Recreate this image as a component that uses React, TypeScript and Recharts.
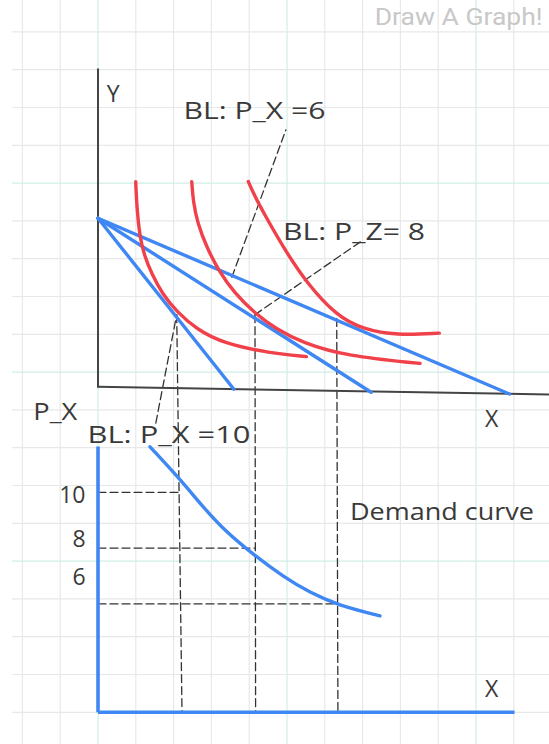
import { ComposedChart, Line, XAxis, YAxis, ReferenceLine, ReferenceDot } from "recharts";

// Everything is measured in grid cells: x = quantity of X, y = quantity of Y.
// The lower panel also uses a price axis (P_X) that shares the same x.
const gridCols = [-2, -1, 0, 1, 2, 3, 4, 5, 6, 7, 8, 9, 10, 11];
const gridRows = [0, 1, 2, 3, 4, 5, 6, 7, 8, 9, 10, 11, 12, 13, 14, 15, 16, 17, 18];
const tealCols = [0, 5, 10];
const tealRows = [4, 9, 14];

// upper panel axes (drawn by hand, the X axis sags a little)
const upperYAxis = [{ x: 0, y: 17.01 }, { x: 0, y: 8.61 }];
const upperXAxis = [{ x: 0, y: 8.61 }, { x: 11.93, y: 8.41 }];

// budget lines all pivot on the same Y intercept
const budgetP10 = [{ x: 0, y: 13.07 }, { x: 3.595, y: 8.545 }];
const budgetP8 = [{ x: 0, y: 13.07 }, { x: 7.226, y: 8.466 }];
const budgetP6 = [{ x: 0, y: 13.07 }, { x: 10.886, y: 8.42 }];

// indifference curves
const ic1 = [
  { x: 0.997, y: 14.04 }, { x: 1.02, y: 13.47 }, { x: 1.1, y: 12.6 }, { x: 1.22, y: 12.1 },
  { x: 1.421, y: 11.6 }, { x: 1.7, y: 11.07 }, { x: 2.082, y: 10.6 }, { x: 2.611, y: 10.13 },
  { x: 3.315, y: 9.76 }, { x: 4.55, y: 9.5 }, { x: 5.513, y: 9.41 },
];
const ic2 = [
  { x: 2.479, y: 14.04 }, { x: 2.52, y: 13.5 }, { x: 2.63, y: 12.95 }, { x: 2.876, y: 12.3 },
  { x: 3.183, y: 11.7 }, { x: 3.6, y: 11.1 }, { x: 4.153, y: 10.55 }, { x: 4.7, y: 10.15 },
  { x: 5.4, y: 9.78 }, { x: 6.579, y: 9.42 }, { x: 8.519, y: 9.23 },
];
const ic3 = [
  { x: 3.976, y: 14.04 }, { x: 4.153, y: 13.64 }, { x: 4.4, y: 13.18 }, { x: 4.902, y: 12.3 },
  { x: 5.5, y: 11.38 }, { x: 6.315, y: 10.48 }, { x: 7.019, y: 10.13 }, { x: 7.902, y: 9.97 },
  { x: 9.029, y: 10.03 },
];

// optimal bundles and where they drop onto the lower panel
const optimum = [{ x: 2.082, y: 10.52 }, { x: 4.153, y: 10.52 }, { x: 6.315, y: 10.42 }];
const dropFoot = [{ x: 2.222, y: 0 }, { x: 4.169, y: 0 }, { x: 6.347, y: 0 }];

// leader lines from the budget line captions
const leaderP6 = [{ x: 3.54, y: 11.51 }, { x: 4.971, y: 15.41 }];
const leaderPz8 = [{ x: 4.153, y: 10.52 }, { x: 7.019, y: 12.5 }];
const leaderP10 = [{ x: 1.529, y: 7.65 }, { x: 2.082, y: 10.52 }];

// lower panel
const lowerYAxis = [{ x: 0, y: 7.03 }, { x: 0, y: 0 }];
const lowerXAxis = [{ x: 0, y: 0 }, { x: 11.02, y: 0 }];
const prices = [10, 8, 6];
const priceDashEnd = [2.12, 4.153, 6.341];
const demand = [
  { x: 1.376, p: 11.63 }, { x: 2.151, p: 10.5 }, { x: 2.75, p: 9.52 }, { x: 3.35, p: 8.62 },
  { x: 4.153, p: 7.72 }, { x: 4.902, p: 6.98 }, { x: 5.608, p: 6.4 }, { x: 6.341, p: 5.96 },
  { x: 7.46, p: 5.57 },
];

const captions = [
  { text: "Y", x: 0.233, y: 16.15 },
  { text: "BL: P_X =6", x: 2.26, y: 15.69, w: 142 },
  { text: "BL: P_Z= 8", x: 4.894, y: 12.49, w: 142 },
  { text: "X", x: 10.238, y: 7.556 },
  { text: "P_X", x: -1.712, y: 7.733, w: 44 },
  { text: "BL: P_X =10", x: -0.278, y: 7.116, w: 163 },
  { text: "Demand curve", x: 6.667, y: 5.087, w: 184 },
  { text: "X", x: 10.238, y: 0.413 },
];
const priceLabelDy = [11, -1, -19];

const BLUE = "#3f87f2";
const RED = "#f0414a";
const INK = "#3a3a3a";
const FONT = "'Open Sans', sans-serif";

export default function App() {
  const dashed = { stroke: "#333", strokeWidth: 1.3, strokeDasharray: "8 4" };
  const seg = (data: any[], key: string, props: any, yAxisId = "q") => (
    <Line
      data={data}
      dataKey={key}
      yAxisId={yAxisId}
      type="linear"
      dot={false}
      activeDot={false}
      isAnimationActive={false}
      strokeLinecap="round"
      {...props}
    />
  );

  return (
    <div style={{ position: "absolute", left: 0, top: 0, width: 549, height: 744, background: "#fff" }}>
      <ComposedChart width={549} height={744} margin={{ top: 0, right: 0, bottom: 0, left: 0 }}>
        <XAxis dataKey="x" type="number" domain={[-2.593, 11.931]} allowDataOverflow hide />
        <YAxis yAxisId="q" type="number" domain={[-0.839, 18.844]} allowDataOverflow hide />
        <YAxis yAxisId="price" type="number" domain={[0.979, 27.645]} allowDataOverflow hide />

        {gridCols.map((c) => (
          <ReferenceLine key={`c${c}`} yAxisId="q" x={c} stroke={tealCols.includes(c) ? "#cfeee7" : "#e8e8e8"} strokeWidth={1.2} />
        ))}
        {gridRows.map((r) => (
          <ReferenceLine
            key={`r${r}`}
            yAxisId="q"
            segment={[{ x: -2.275, y: r }, { x: 11.931, y: r }]}
            stroke={tealRows.includes(r) ? "#cfeee7" : "#e8e8e8"}
            strokeWidth={1.2}
          />
        ))}

        {/* drop lines from each optimum to the demand panel */}
        {optimum.map((o, i) => seg([o, dropFoot[i]], "y", { key: `drop${i}`, ...dashed }))}
        {seg(leaderP6, "y", dashed)}
        {seg(leaderPz8, "y", dashed)}
        {seg(leaderP10, "y", dashed)}
        {prices.map((p, i) =>
          seg([{ x: 0, p }, { x: priceDashEnd[i], p }], "p", { key: `pd${i}`, ...dashed }, "price")
        )}

        {seg(upperYAxis, "y", { stroke: "#444", strokeWidth: 2 })}
        {seg(upperXAxis, "y", { stroke: "#444", strokeWidth: 2 })}

        {seg(budgetP10, "y", { stroke: BLUE, strokeWidth: 3.4 })}
        {seg(budgetP8, "y", { stroke: BLUE, strokeWidth: 3.4 })}
        {seg(budgetP6, "y", { stroke: BLUE, strokeWidth: 3.4 })}

        {seg(ic1, "y", { stroke: RED, strokeWidth: 3.4, type: "basis" })}
        {seg(ic2, "y", { stroke: RED, strokeWidth: 3.4, type: "basis" })}
        {seg(ic3, "y", { stroke: RED, strokeWidth: 3.4, type: "basis" })}

        {seg(lowerYAxis, "y", { stroke: BLUE, strokeWidth: 3.6, strokeLinecap: "butt" })}
        {seg(lowerXAxis, "y", { stroke: BLUE, strokeWidth: 3.6, strokeLinecap: "butt" })}
        {seg(demand, "p", { stroke: BLUE, strokeWidth: 3.4, type: "basis" }, "price")}

        {captions.map((c, i) => (
          <ReferenceDot
            key={`t${i}`}
            yAxisId="q"
            x={c.x}
            y={c.y}
            r={0}
            ifOverflow="visible"
            shape={(s: any) => (
              <text
                x={s.cx}
                y={s.cy}
                fill={INK}
                fontFamily={FONT}
                fontSize={23}
                textLength={c.w}
                lengthAdjust={c.w ? "spacingAndGlyphs" : undefined}
              >
                {c.text}
              </text>
            )}
          />
        ))}
        {prices.map((p, i) => (
          <ReferenceDot
            key={`pl${i}`}
            yAxisId="price"
            x={-0.33}
            y={p}
            r={0}
            ifOverflow="visible"
            shape={(s: any) => (
              <text x={s.cx} y={s.cy + priceLabelDy[i]} textAnchor="end" fill={INK} fontFamily={FONT} fontSize={23}>
                {p}
              </text>
            )}
          />
        ))}
        <ReferenceDot
          yAxisId="q"
          x={11.765}
          y={18.183}
          r={0}
          ifOverflow="visible"
          shape={(s: any) => (
            <text
              x={s.cx}
              y={s.cy}
              textAnchor="end"
              fill="#c8c8c8"
              fontFamily="Roboto, sans-serif"
              fontSize={23}
              textLength={168}
              lengthAdjust="spacingAndGlyphs"
            >
              Draw A Graph!
            </text>
          )}
        />
      </ComposedChart>
    </div>
  );
}
